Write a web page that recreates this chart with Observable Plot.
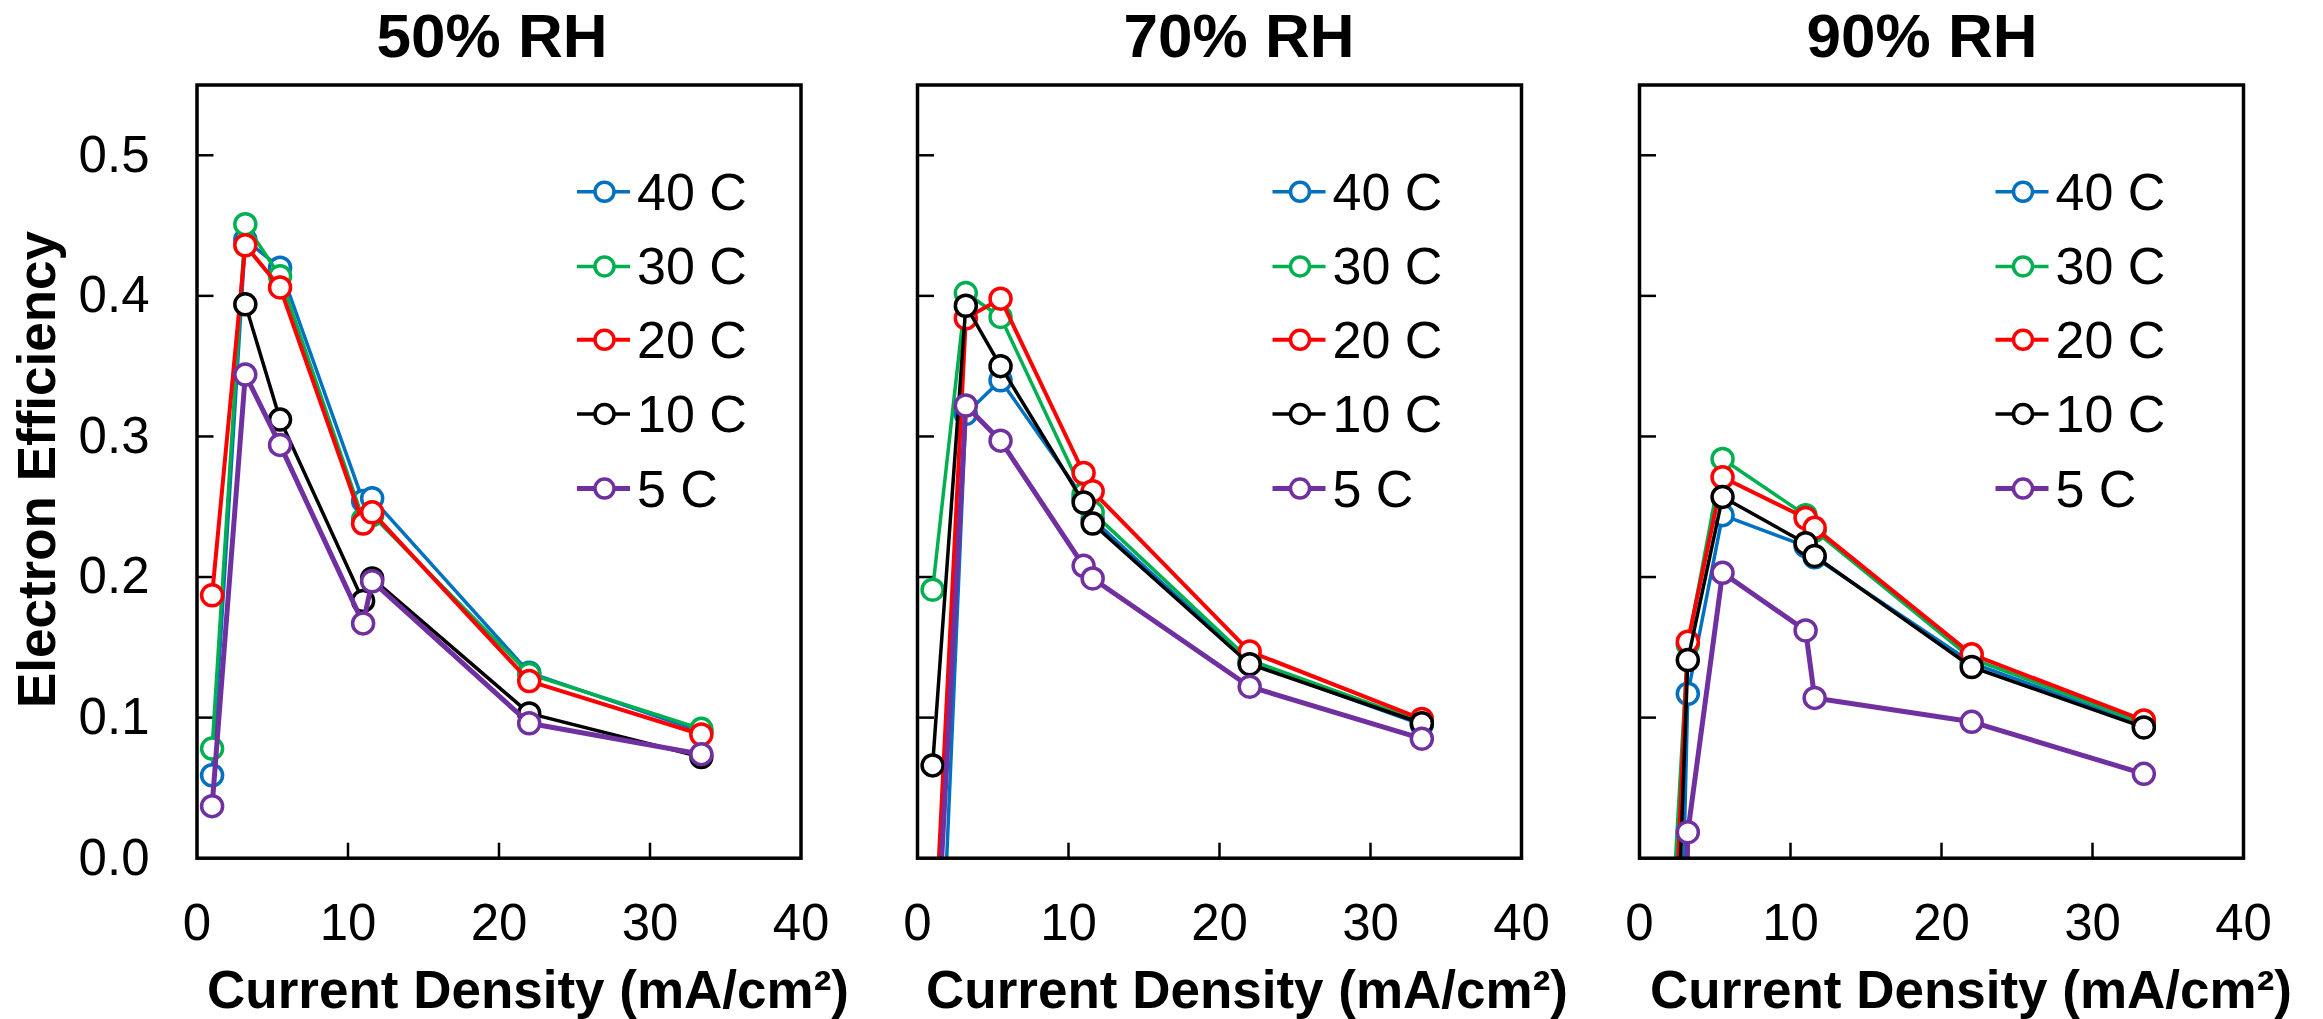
<!DOCTYPE html>
<html>
<head>
<meta charset="utf-8">
<script src="https://cdn.jsdelivr.net/npm/d3@7"></script>
<script src="https://cdn.jsdelivr.net/npm/@observablehq/plot@0.6"></script>
<style>
  html, body { margin: 0; padding: 0; background: white; }
  #wrap { position: relative; width: 2323px; height: 1019px; overflow: hidden; background: white; }
  #wrap svg { position: absolute; top: 0; }
  #overlay { left: 0; pointer-events: none; }
</style>
</head>
<body>
<div id="wrap"></div>
<script>
// ---------- data ----------
const panels = ["50% RH", "70% RH", "90% RH"];
const seriesNames = ["40 C", "30 C", "20 C", "10 C", "5 C"];
const seriesColors = ["#0070C0", "#00B050", "#FF0000", "#000000", "#7030A0"];
const seriesWidths = [3.5, 3.5, 4, 3.5, 5];

// current density (mA/cm2)
const currentDensity = [1.0, 3.2, 5.5, 11.0, 11.6, 22.0, 33.4];

// electron efficiency, 50% RH
const rh50_40C = [0.059, 0.440, 0.420, 0.254, 0.256, 0.132, 0.090];
const rh50_30C = [0.078, 0.451, 0.414, 0.241, 0.244, 0.131, 0.092];
const rh50_20C = [0.187, 0.436, 0.406, 0.238, 0.246, 0.126, 0.088];
const rh50_10C = [null, 0.394, 0.312, 0.183, 0.199, 0.103, 0.072];
const rh50_5C  = [0.037, 0.344, 0.294, 0.167, 0.197, 0.096, 0.074];

// electron efficiency, 70% RH
const rh70_40C = [-0.233, 0.316, 0.340, 0.256, 0.241, 0.139, 0.095];
const rh70_30C = [0.191, 0.402, 0.385, 0.259, 0.246, 0.141, 0.097];
const rh70_20C = [-0.090, 0.384, 0.398, 0.274, 0.261, 0.147, 0.099];
const rh70_10C = [0.066, 0.393, 0.350, 0.253, 0.238, 0.138, 0.096];
const rh70_5C  = [-0.121, 0.322, 0.297, 0.208, 0.199, 0.122, 0.085];

// electron efficiency, 90% RH
const rh90_40C = [-0.85, 0.117, 0.244, 0.222, 0.214, 0.139, 0.094];
const rh90_30C = [-0.26, 0.152, 0.284, 0.244, 0.233, 0.142, 0.096];
const rh90_20C = [-0.38, 0.154, 0.271, 0.242, 0.235, 0.145, 0.098];
const rh90_10C = [-0.50, 0.141, 0.257, 0.224, 0.215, 0.136, 0.093];
const rh90_5C  = [-1.20, 0.0185, 0.203, 0.162, 0.114, 0.097, 0.060];

const xTicks = [0, 10, 20, 30, 40];
const yTicks = [0, 0.1, 0.2, 0.3, 0.4, 0.5];
const xLabel = "Current Density (mA/cm²)";
const yLabel = "Electron Efficiency";

// ---------- layout ----------
const FONT = "'Liberation Sans', Arial, Helvetica, sans-serif";
const panelData = [
  [rh50_40C, rh50_30C, rh50_20C, rh50_10C, rh50_5C],
  [rh70_40C, rh70_30C, rh70_20C, rh70_10C, rh70_5C],
  [rh90_40C, rh90_30C, rh90_20C, rh90_10C, rh90_5C]
];
const frameW = 604;
const marginTop = 84.5, marginBottom = 161.3;
const frameH = 1019 - marginTop - marginBottom;
const layout = [
  {svgLeft: 0,    ml: 196.5, mr: 50, titleX: 492,  labelX: 528,  legendX: 577},
  {svgLeft: 857,  ml: 60,    mr: 50, titleX: 1239, labelX: 1247, legendX: 1272.5},
  {svgLeft: 1579, ml: 60,    mr: 60, titleX: 1922, labelX: 1971, legendX: 1995.5}
];

const wrap = document.getElementById("wrap");

panels.forEach((p, pi) => {
  const L = layout[pi];
  const marks = [];
  // inward ticks
  marks.push(Plot.ruleY(yTicks.filter(d => d > 0), {stroke: "black", strokeWidth: 2.5, insetRight: frameW - 17}));
  marks.push(Plot.ruleX(xTicks.filter(d => d > 0 && d < 40), {stroke: "black", strokeWidth: 2.5, insetTop: frameH - 15}));
  // axis labels
  marks.push(Plot.axisX(xTicks, {tickSize: 0, tickPadding: 46, fontSize: 51, label: null}));
  if (pi === 0) {
    marks.push(Plot.axisY(yTicks, {tickSize: 0, tickPadding: 47.5, fontSize: 51, label: null, tickFormat: d3.format(".1f")}));
  }
  // series
  seriesNames.forEach((s, si) => {
    const rows = currentDensity.map((x, i) => ({x, y: panelData[pi][si][i], series: s}));
    marks.push(Plot.line(rows, {x: "x", y: "y", stroke: seriesColors[si], strokeWidth: seriesWidths[si], clip: true}));
    marks.push(Plot.dot(rows.filter(r => r.y != null), {x: "x", y: "y", r: 10.5, fill: "white", stroke: seriesColors[si], strokeWidth: 3.5, clip: true}));
  });
  marks.push(Plot.frame({stroke: "black", strokeWidth: 3.5}));

  const chart = Plot.plot({
    width: L.ml + frameW + L.mr,
    height: 1019,
    marginTop, marginBottom,
    marginLeft: L.ml, marginRight: L.mr,
    x: {domain: [0, 40], axis: null},
    y: {domain: [0, 0.55], axis: null},
    style: {background: "transparent", fontFamily: FONT, fontSize: "50px", color: "black", overflow: "visible"},
    marks
  });
  chart.style.left = L.svgLeft + "px";
  chart.style.position = "absolute";
  chart.style.top = "0px";
  chart.style.maxWidth = "none";
  wrap.appendChild(chart);
});

// ---------- overlay: titles, axis titles, legends ----------
const NS = "http://www.w3.org/2000/svg";
const ov = document.createElementNS(NS, "svg");
ov.setAttribute("id", "overlay");
ov.setAttribute("width", 2323);
ov.setAttribute("height", 1019);
ov.style.position = "absolute";
ov.style.left = "0px";
ov.style.top = "0px";
ov.style.fontFamily = FONT;
wrap.appendChild(ov);

function txt(str, x, y, opts = {}) {
  const t = document.createElementNS(NS, "text");
  t.setAttribute("x", x);
  t.setAttribute("y", y);
  t.setAttribute("font-size", opts.size || 50);
  t.setAttribute("font-weight", opts.weight || "normal");
  t.setAttribute("text-anchor", opts.anchor || "start");
  t.setAttribute("fill", "black");
  if (opts.transform) t.setAttribute("transform", opts.transform);
  t.textContent = str;
  ov.appendChild(t);
  return t;
}

const legendRows = [191.7, 266.4, 339.8, 413.9, 488.6];
panels.forEach((p, pi) => {
  const L = layout[pi];
  txt(p, L.titleX, 57, {size: 62, weight: "bold", anchor: "middle"});
  txt(xLabel, L.labelX, 1008, {size: 53, weight: "bold", anchor: "middle"});
  seriesNames.forEach((s, si) => {
    const cy = legendRows[si];
    const ln = document.createElementNS(NS, "line");
    ln.setAttribute("x1", L.legendX);
    ln.setAttribute("x2", L.legendX + 53);
    ln.setAttribute("y1", cy);
    ln.setAttribute("y2", cy);
    ln.setAttribute("stroke", seriesColors[si]);
    ln.setAttribute("stroke-width", seriesWidths[si]);
    ov.appendChild(ln);
    const c = document.createElementNS(NS, "circle");
    c.setAttribute("cx", L.legendX + 27.5);
    c.setAttribute("cy", cy);
    c.setAttribute("r", 9.5);
    c.setAttribute("fill", "white");
    c.setAttribute("stroke", seriesColors[si]);
    c.setAttribute("stroke-width", 3.5);
    ov.appendChild(c);
    txt(s, L.legendX + 60, cy + 18, {size: 52});
  });
});
txt(yLabel, 0, 0, {size: 53, weight: "bold", anchor: "middle", transform: "translate(55,469.5) rotate(-90)"});
</script>
</body>
</html>
